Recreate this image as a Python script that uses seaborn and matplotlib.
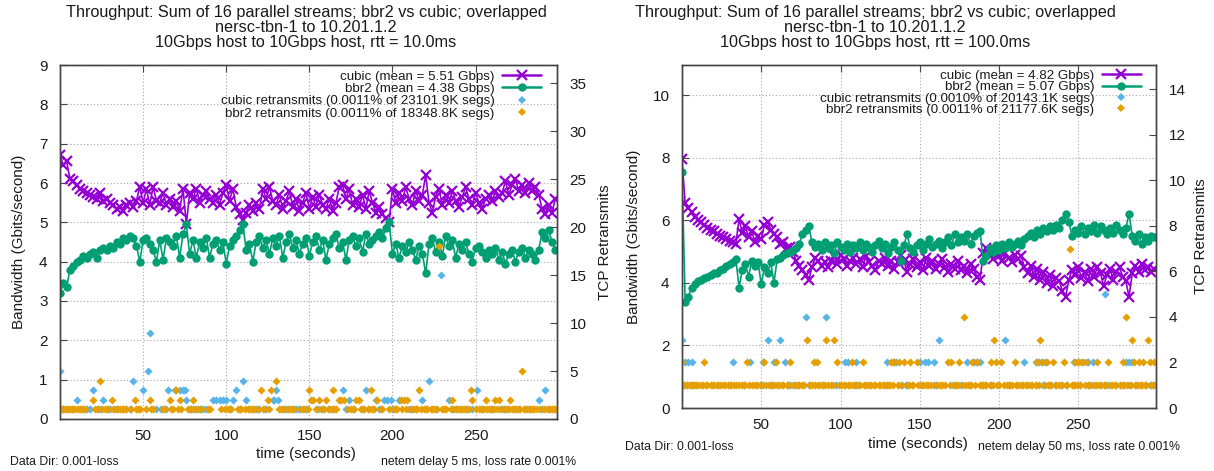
import pandas as pd
import matplotlib
matplotlib.use("Agg")
import matplotlib.pyplot as plt
from matplotlib.lines import Line2D
import seaborn as sns

# Sample times (seconds) for the bandwidth series
seconds = list(range(0, 300, 2))

# Aggregate throughput (Gbit/s), rtt = 10 ms
cubic_bw_10 = [
    6.70, 6.45, 6.55, 6.10, 6.05, 5.95, 5.85, 5.80, 5.75, 5.70, 5.65, 5.60, 5.75, 5.55, 5.60,
    5.50, 5.45, 5.35, 5.40, 5.30, 5.45, 5.50, 5.40, 5.55, 5.90, 5.50, 5.85, 5.45, 5.90, 5.55,
    5.50, 5.75, 5.45, 5.60, 5.40, 5.55, 5.30, 5.85, 4.95, 5.75, 5.60, 5.85, 5.50, 5.70, 5.80,
    5.60, 5.50, 5.70, 5.45, 5.75, 5.95, 5.55, 5.85, 5.40, 5.20, 5.05, 5.25, 5.45, 5.30, 5.50,
    5.35, 5.85, 5.60, 5.90, 5.55, 5.45, 5.70, 5.35, 5.55, 5.80, 5.40, 5.60, 5.30, 5.50, 5.75,
    5.35, 5.65, 5.40, 5.70, 5.45, 5.35, 5.60, 5.30, 5.50, 5.90, 5.95, 5.60, 5.85, 5.45, 5.60,
    5.40, 5.70, 5.35, 5.80, 5.50, 5.25, 5.40, 5.20, 5.10, 5.00, 5.85, 5.50, 5.75, 5.55, 5.90,
    5.60, 5.45, 5.80, 5.55, 5.70, 6.20, 5.50, 5.25, 5.65, 5.85, 5.45, 5.70, 5.50, 5.80, 5.55,
    5.40, 5.65, 5.90, 5.60, 5.45, 5.75, 5.50, 5.35, 5.60, 5.70, 5.55, 5.80, 5.65, 5.75, 6.05,
    5.70, 5.95, 6.10, 5.80, 5.95, 5.75, 6.00, 5.80, 5.90, 5.70, 5.35, 5.20, 5.45, 5.25, 5.60,
]
bbr2_bw_10 = [
    3.20, 3.45, 3.35, 3.80, 3.90, 4.00, 4.05, 4.15, 4.10, 4.20, 4.25, 4.10, 4.30, 4.35, 4.30,
    4.40, 4.35, 4.50, 4.45, 4.60, 4.55, 4.65, 4.60, 4.40, 4.00, 4.55, 4.60, 4.45, 4.30, 4.00,
    4.55, 4.05, 4.60, 4.50, 4.40, 4.65, 4.10, 4.70, 4.95, 4.20, 4.55, 4.10, 4.50, 4.35, 4.60,
    4.10, 4.45, 4.55, 4.30, 4.50, 3.95, 4.40, 4.55, 4.65, 4.80, 4.95, 4.30, 4.45, 4.00, 4.50,
    4.65, 4.35, 4.55, 4.20, 4.60, 4.40, 4.65, 4.10, 4.50, 4.70, 4.35, 4.55, 4.20, 4.45, 4.60,
    4.15, 4.50, 4.65, 4.30, 4.55, 4.05, 4.45, 4.60, 4.70, 4.35, 4.50, 4.05, 4.55, 4.65, 4.40,
    4.60, 4.25, 4.70, 4.45, 4.55, 4.65, 4.75, 4.60, 4.85, 5.00, 4.20, 4.45, 4.10, 4.40, 4.25,
    4.50, 4.30, 4.05, 4.40, 4.20, 3.70, 4.45, 4.60, 4.25, 4.50, 4.15, 4.65, 4.40, 4.55, 4.10,
    4.45, 4.30, 4.50, 4.20, 4.00, 4.35, 4.40, 4.25, 4.10, 4.30, 4.20, 4.35, 4.05, 4.25, 3.95,
    4.20, 4.30, 4.00, 4.25, 4.35, 4.10, 4.30, 4.20, 4.05, 4.30, 4.75, 4.60, 4.80, 4.50, 4.30,
]

# Aggregate throughput (Gbit/s), rtt = 100 ms
cubic_bw_100 = [
    7.95, 6.55, 6.40, 6.25, 6.10, 6.00, 5.95, 5.85, 5.75, 5.70, 5.65, 5.55, 5.50, 5.45, 5.40,
    5.35, 5.30, 5.25, 6.05, 5.60, 5.80, 5.45, 5.65, 5.30, 5.50, 5.40, 5.85, 5.95, 5.70, 5.55,
    5.45, 5.25, 5.30, 5.10, 5.15, 5.00, 4.70, 4.55, 4.40, 4.25, 4.10, 4.50, 4.80, 4.70, 4.55,
    4.65, 4.50, 4.70, 4.85, 4.60, 4.90, 4.75, 4.55, 4.70, 4.80, 4.60, 4.75, 4.50, 4.85, 4.65,
    4.55, 4.40, 4.70, 4.60, 4.80, 4.55, 4.70, 4.45, 4.65, 4.90, 4.70, 4.35, 4.60, 4.75, 4.50,
    4.65, 4.40, 4.80, 4.55, 4.70, 4.45, 4.60, 4.75, 4.50, 4.35, 4.60, 4.45, 4.70, 4.40, 4.55,
    4.30, 4.60, 4.45, 4.20, 4.10, 4.95, 5.10, 4.90, 4.75, 5.00, 4.85, 4.70, 4.95, 4.80, 4.65,
    4.90, 4.75, 4.85, 4.50, 4.30, 4.55, 4.20, 4.45, 4.10, 4.35, 4.00, 4.25, 3.90, 4.15, 4.05,
    3.75, 3.55, 4.10, 4.40, 4.25, 4.50, 4.15, 4.35, 4.05, 4.45, 4.20, 4.50, 4.30, 3.90, 4.25,
    4.45, 4.10, 4.35, 4.50, 4.20, 4.05, 3.55, 4.30, 4.55, 4.35, 4.60, 4.40, 4.50, 4.35, 4.45,
]
bbr2_bw_100 = [
    7.55, 3.40, 3.55, 3.85, 3.95, 4.05, 4.10, 4.15, 4.20, 4.25, 4.30, 4.30, 4.40, 4.45, 4.55,
    4.60, 4.65, 4.75, 3.85, 4.40, 4.60, 4.20, 4.70, 4.55, 4.65, 3.95, 4.50, 4.30, 4.65, 4.00,
    4.75, 4.80, 4.90, 4.95, 5.00, 5.05, 5.10, 5.25, 5.55, 5.70, 5.80, 5.30, 5.15, 5.25, 5.05,
    5.30, 5.10, 5.20, 4.95, 5.30, 5.15, 5.05, 5.25, 5.00, 5.20, 5.10, 5.30, 5.05, 5.25, 5.15,
    5.00, 5.20, 5.35, 5.10, 5.25, 4.95, 5.15, 5.30, 5.05, 4.70, 5.20, 5.55, 5.10, 5.00, 5.20,
    5.30, 5.05, 5.25, 5.40, 5.15, 5.25, 5.35, 5.10, 5.30, 5.45, 5.20, 5.55, 5.30, 5.45, 5.35,
    5.55, 5.25, 5.50, 5.60, 5.65, 4.70, 4.85, 5.10, 5.00, 5.20, 5.05, 5.25, 5.10, 5.30, 5.15,
    5.25, 5.35, 5.20, 5.40, 5.50, 5.60, 5.45, 5.70, 5.55, 5.75, 5.65, 5.80, 5.70, 5.85, 5.75,
    6.00, 6.20, 5.95, 5.50, 5.70, 5.60, 5.80, 5.55, 5.75, 5.65, 5.85, 5.60, 5.80, 5.70, 5.55,
    5.75, 5.60, 5.85, 5.70, 5.55, 5.75, 6.20, 5.50, 5.35, 5.55, 5.25, 5.45, 5.35, 5.50, 5.45,
]

# Retransmits per second as (time, count), rtt = 10 ms
cubic_rtx_10 = [
    (0, 5), (0, 1), (2, 1), (4, 1), (10, 2), (16, 1), (18, 1), (20, 3), (22, 1), (24, 1), (26, 2),
    (30, 1), (33, 1), (42, 1), (44, 4), (50, 3), (53, 5), (54, 9), (58, 1), (61, 1), (64, 1),
    (65, 3), (69, 3), (72, 3), (74, 3), (75, 3), (76, 2), (78, 1), (80, 1), (83, 1), (86, 1),
    (88, 1), (92, 2), (94, 2), (96, 2), (98, 2), (100, 2), (102, 1), (104, 2), (106, 3), (110, 4),
    (112, 2), (116, 1), (118, 1), (120, 1), (124, 1), (128, 2), (129, 2), (130, 3), (131, 2),
    (136, 1), (140, 1), (142, 1), (144, 1), (148, 1), (155, 1), (159, 1), (164, 1), (170, 3),
    (172, 1), (174, 2), (176, 1), (182, 1), (184, 3), (190, 2), (192, 1), (195, 2), (197, 2),
    (199, 2), (200, 1), (204, 2), (210, 1), (212, 1), (218, 2), (222, 4), (226, 1), (229, 15),
    (234, 2), (236, 1), (238, 1), (244, 1), (248, 1), (251, 3), (254, 1), (260, 1), (266, 1),
    (276, 1), (282, 1), (288, 2), (290, 1), (292, 3), (294, 1),
]
bbr2_rtx_10 = [
    (1, 1), (2, 1), (3, 1), (5, 1), (6, 1), (7, 1), (8, 1), (9, 1), (11, 1), (12, 1), (13, 1),
    (14, 1), (15, 1), (20, 2), (21, 1), (23, 1), (24, 4), (25, 1), (27, 1), (28, 1), (29, 1),
    (31, 2), (32, 1), (34, 1), (35, 1), (36, 1), (37, 1), (38, 1), (39, 1), (40, 1), (43, 1),
    (45, 2), (46, 1), (47, 1), (48, 1), (52, 1), (54, 2), (55, 1), (56, 1), (62, 1), (63, 1),
    (66, 2), (67, 1), (68, 1), (70, 3), (71, 1), (72, 2), (73, 1), (77, 1), (79, 1), (80, 2),
    (81, 1), (82, 1), (84, 1), (85, 1), (89, 1), (90, 1), (97, 1), (99, 1), (101, 1), (103, 1),
    (107, 1), (108, 1), (109, 1), (111, 1), (113, 1), (114, 1), (115, 1), (117, 1), (119, 1),
    (121, 3), (122, 1), (123, 1), (125, 2), (126, 1), (127, 3), (130, 4), (132, 1), (133, 1),
    (134, 1), (135, 1), (137, 1), (138, 1), (139, 1), (141, 1), (145, 1), (146, 1), (147, 1),
    (149, 1), (150, 3), (151, 2), (152, 2), (154, 1), (156, 2), (157, 1), (158, 1), (160, 2),
    (161, 1), (162, 1), (163, 1), (164, 3), (165, 1), (166, 1), (168, 2), (169, 2), (171, 2),
    (173, 1), (175, 1), (177, 1), (178, 2), (180, 2), (181, 1), (183, 1), (185, 1), (186, 1),
    (187, 3), (188, 1), (189, 1), (191, 2), (193, 1), (194, 1), (198, 1), (201, 1), (202, 1),
    (203, 1), (205, 2), (206, 1), (207, 2), (208, 1), (209, 2), (211, 1), (213, 1), (214, 1),
    (215, 1), (216, 3), (217, 1), (219, 1), (220, 1), (221, 1), (223, 1), (224, 1), (225, 1),
    (227, 1), (228, 18), (230, 1), (231, 1), (232, 1), (235, 1), (236, 2), (237, 1), (239, 1),
    (240, 1), (241, 1), (242, 1), (243, 1), (245, 1), (246, 1), (247, 3), (248, 2), (250, 1),
    (252, 1), (253, 1), (255, 1), (256, 2), (257, 1), (258, 1), (259, 1), (261, 1), (262, 2),
    (263, 1), (264, 2), (265, 1), (267, 1), (268, 1), (269, 1), (270, 1), (271, 2), (272, 1),
    (273, 1), (274, 1), (275, 1), (277, 1), (278, 5), (279, 1), (280, 1), (281, 1), (283, 1),
    (284, 1), (285, 1), (287, 1), (289, 1), (291, 1), (293, 1), (295, 1), (296, 1), (297, 1),
    (298, 1),
]

# Retransmits per second as (time, count), rtt = 100 ms
cubic_rtx_100 = [
    (0, 3), (0, 1), (1, 1), (2, 2), (3, 1), (4, 2), (5, 1), (6, 2), (7, 1), (32, 2), (43, 2),
    (51, 2), (51, 1), (54, 3), (57, 1), (58, 2), (62, 3), (65, 2), (68, 1), (72, 1), (78, 4),
    (80, 1), (89, 1), (91, 4), (97, 1), (103, 2), (105, 2), (110, 2), (110, 1), (116, 1),
    (129, 2), (129, 1), (133, 2), (135, 2), (139, 1), (141, 1), (150, 2), (153, 2), (155, 2),
    (159, 2), (159, 1), (162, 3), (171, 1), (176, 1), (180, 2), (181, 1), (184, 2), (186, 2),
    (188, 2), (190, 1), (195, 1), (204, 3), (206, 1), (216, 2), (223, 2), (223, 1), (225, 2),
    (227, 2), (228, 1), (229, 2), (233, 1), (240, 1), (247, 2), (247, 1), (250, 2), (251, 1),
    (253, 2), (256, 2), (258, 1), (259, 2), (267, 5), (268, 1), (278, 1), (280, 2), (282, 2),
    (282, 1), (284, 2), (287, 1), (295, 1), (298, 1),
]
bbr2_rtx_100 = [
    (0, 2), (1, 1), (3, 1), (5, 1), (6, 1), (8, 1), (9, 1), (10, 1), (12, 1), (13, 1), (14, 2),
    (15, 1), (16, 1), (18, 1), (19, 1), (20, 1), (22, 1), (23, 1), (24, 1), (26, 1), (27, 1),
    (29, 1), (30, 1), (31, 1), (33, 1), (34, 1), (36, 1), (38, 1), (39, 1), (40, 1), (41, 2),
    (42, 1), (44, 1), (46, 1), (47, 1), (49, 1), (50, 1), (52, 2), (53, 1), (55, 1), (56, 1),
    (58, 1), (59, 2), (60, 1), (61, 1), (63, 1), (64, 1), (66, 1), (67, 1), (68, 2), (70, 1),
    (71, 1), (73, 1), (74, 1), (76, 1), (77, 1), (79, 3), (81, 1), (82, 1), (83, 2), (84, 1),
    (85, 2), (86, 1), (87, 1), (89, 1), (90, 1), (91, 3), (92, 1), (94, 1), (95, 1), (96, 3),
    (98, 2), (99, 1), (100, 1), (102, 1), (103, 1), (105, 1), (106, 1), (107, 2), (108, 1),
    (109, 1), (111, 1), (112, 1), (114, 2), (115, 1), (116, 1), (118, 1), (119, 1), (121, 1),
    (122, 1), (124, 1), (125, 1), (127, 1), (128, 1), (130, 1), (131, 1), (132, 2), (133, 1),
    (134, 2), (136, 1), (137, 2), (138, 1), (140, 2), (142, 1), (143, 1), (144, 2), (145, 1),
    (146, 1), (148, 2), (149, 1), (151, 1), (152, 1), (154, 1), (155, 1), (157, 1), (160, 1),
    (161, 1), (163, 1), (164, 1), (166, 1), (168, 2), (169, 1), (170, 2), (172, 1), (173, 1),
    (174, 1), (175, 2), (177, 1), (178, 4), (179, 1), (181, 1), (182, 1), (183, 2), (185, 1),
    (186, 2), (188, 1), (189, 1), (191, 1), (192, 1), (194, 1), (195, 2), (196, 1), (197, 3),
    (198, 2), (199, 1), (200, 1), (201, 2), (203, 1), (205, 1), (207, 1), (208, 1), (210, 2),
    (211, 1), (212, 1), (214, 1), (215, 1), (217, 1), (218, 1), (220, 1), (221, 1), (223, 1),
    (224, 2), (225, 1), (226, 3), (227, 2), (229, 1), (230, 2), (231, 1), (232, 1), (234, 2),
    (235, 1), (236, 1), (238, 1), (239, 1), (241, 2), (242, 1), (243, 1), (245, 7), (246, 1),
    (247, 1), (248, 2), (249, 1), (250, 2), (251, 1), (252, 2), (254, 1), (255, 2), (256, 1),
    (257, 1), (260, 1), (261, 1), (262, 2), (263, 1), (264, 1), (266, 1), (267, 1), (269, 2),
    (270, 1), (271, 1), (273, 1), (274, 1), (276, 1), (277, 1), (278, 2), (279, 1), (280, 4),
    (281, 1), (283, 1), (284, 3), (285, 2), (286, 1), (287, 1), (288, 2), (289, 1), (290, 1),
    (291, 2), (292, 1), (293, 1), (294, 3), (295, 2), (296, 1), (297, 1), (298, 2), (299, 1),
]

title_common = "Throughput: Sum of 16 parallel streams; bbr2 vs cubic; overlapped\nnersc-tbn-1 to 10.201.1.2\n"
titles = [title_common + "10Gbps host to 10Gbps host, rtt = 10.0ms",
          title_common + "10Gbps host to 10Gbps host, rtt = 100.0ms"]
legend_labels = [
    ["cubic (mean = 5.51 Gbps)", "bbr2 (mean = 4.38 Gbps)",
     "cubic retransmits (0.0011% of 23101.9K segs)", "bbr2 retransmits (0.0011% of 18348.8K segs)"],
    ["cubic (mean = 4.82 Gbps)", "bbr2 (mean = 5.07 Gbps)",
     "cubic retransmits (0.0010% of 20143.1K segs)", "bbr2 retransmits (0.0011% of 21177.6K segs)"],
]
footers = ["netem delay 5 ms, loss rate 0.001%", "netem delay 50 ms, loss rate 0.001%"]
data_dir = "Data Dir: 0.001-loss"
x_ticks = [50, 100, 150, 200, 250]

PURPLE = "#9400D3"
GREEN = "#009E73"
CYAN = "#56B4E9"
ORANGE = "#E69F00"
INK = "#1a1a1a"
FRAME = "#444444"

sns.set_style("white")
plt.rcParams["font.family"] = ["Liberation Sans", "DejaVu Sans"]
plt.rcParams["text.color"] = INK
plt.rcParams["axes.labelcolor"] = INK
plt.rcParams["xtick.color"] = INK
plt.rcParams["ytick.color"] = INK

fig = plt.figure(figsize=(12.14, 4.71), dpi=100)
W, H = 1214, 471


def px_rect(x0, y0, x1, y1):
    return [x0 / W, 1 - y1 / H, (x1 - x0) / W, (y1 - y0) / H]


def draw_panel(rect, cubic_bw, bbr2_bw, cubic_rtx, bbr2_rtx, ymax, yticks, y2max, y2ticks):
    ax = fig.add_axes(rect)
    ax2 = ax.twinx()

    bw = pd.DataFrame({"time": seconds, "cubic": cubic_bw, "bbr2": bbr2_bw})
    line_kw = dict(linewidth=1.2, errorbar=None, legend=False, ax=ax)
    sns.lineplot(data=bw, x="time", y="cubic", color=PURPLE, marker="x", markersize=7,
                 markeredgewidth=1.6, markeredgecolor=PURPLE, **line_kw)
    sns.lineplot(data=bw, x="time", y="bbr2", color=GREEN, marker="o", markersize=6,
                 markeredgewidth=0, markerfacecolor=GREEN, **line_kw)

    rc = pd.DataFrame(cubic_rtx, columns=["time", "count"])
    rb = pd.DataFrame(bbr2_rtx, columns=["time", "count"])
    sns.scatterplot(data=rc, x="time", y="count", color=CYAN, marker="D", s=17,
                    linewidth=0, legend=False, ax=ax2)
    sns.scatterplot(data=rb, x="time", y="count", color=ORANGE, marker="D", s=17,
                    linewidth=0, legend=False, ax=ax2)

    ax.set_xlim(0, 299)
    ax.set_ylim(0, ymax)
    ax2.set_ylim(0, y2max)
    ax.set_xticks(x_ticks)
    ax.set_yticks(yticks)
    ax2.set_yticks(y2ticks)
    ax.grid(True, linestyle=(0, (1, 2)), color="#a8a8a8", linewidth=0.8)
    ax.set_axisbelow(True)

    for a in (ax, ax2):
        for sp in a.spines.values():
            sp.set_color(FRAME)
            sp.set_linewidth(1.0)
    ax.tick_params(axis="x", direction="in", length=5, top=True, labelsize=11, pad=7,
                   color=FRAME)
    ax.tick_params(axis="y", direction="in", length=5, labelsize=11, pad=9, color=FRAME)
    ax2.tick_params(axis="y", direction="in", length=5, labelsize=11, pad=9, color=FRAME)

    ax.set_xlabel("time (seconds)", fontsize=11)
    ax.set_ylabel("Bandwidth (Gbits/second)", fontsize=11)
    ax2.set_ylabel("TCP Retransmits", fontsize=11)
    return ax, ax2


panels = [
    dict(box=(60, 65, 557, 419), data=dict(cubic_bw=cubic_bw_10, bbr2_bw=bbr2_bw_10,
         cubic_rtx=cubic_rtx_10, bbr2_rtx=bbr2_rtx_10, ymax=9, yticks=list(range(0, 10)),
         y2max=36.9, y2ticks=list(range(0, 36, 5))),
         labels=legend_labels[0], title=titles[0], title_x=306, footer=footers[0],
         footer_x=576, footer_y=462, dir_x=10, ylab_x=26, y2lab_x=598, xlab=(306, 455),
         legend_spacing=0.0, legend_top=0.985),
    dict(box=(682, 65, 1156, 408), data=dict(cubic_bw=cubic_bw_100, bbr2_bw=bbr2_bw_100,
         cubic_rtx=cubic_rtx_100, bbr2_rtx=bbr2_rtx_100, ymax=10.96,
         yticks=list(range(0, 11, 2)), y2max=15.07, y2ticks=list(range(0, 15, 2))),
         labels=legend_labels[1], title=titles[1], title_x=875, footer=footers[1],
         footer_x=1180, footer_y=447, dir_x=625, ylab_x=641, y2lab_x=1194, xlab=(918, 445),
         legend_spacing=-0.08, legend_top=0.986),
]

for p in panels:
    x0, y0, x1, y1 = p["box"]
    w, h = x1 - x0, y1 - y0
    ax, ax2 = draw_panel(px_rect(*p["box"]), **p["data"])
    ax.yaxis.set_label_coords((p["ylab_x"] - x0) / w, 0.5)
    ax2.yaxis.set_label_coords((p["y2lab_x"] - x0) / w, 0.5)
    ax.xaxis.set_label_coords((p["xlab"][0] - x0) / w, -(p["xlab"][1] - 8 - y1) / h)

    handles = [
        Line2D([], [], color=PURPLE, marker="x", markersize=7, markeredgewidth=1.6, linewidth=1.8),
        Line2D([], [], color=GREEN, marker="o", markersize=6, markeredgewidth=0, linewidth=1.8),
        Line2D([], [], color=CYAN, marker="D", markersize=4, markeredgewidth=0, linestyle="none"),
        Line2D([], [], color=ORANGE, marker="D", markersize=4, markeredgewidth=0, linestyle="none"),
    ]
    ax2.legend(handles, p["labels"], loc="upper right", bbox_to_anchor=(0.968, p["legend_top"]),
               markerfirst=False, frameon=False, fontsize=9.6, handlelength=2.9,
               handletextpad=0.6, labelspacing=p["legend_spacing"], borderpad=0,
               borderaxespad=0)

    fig.text(p["title_x"] / W, 1 - 5 / H, p["title"], ha="center", va="top",
             fontsize=11.7, linespacing=0.98)
    fig.text(p["footer_x"] / W, 1 - p["footer_y"] / H, p["footer"], ha="right",
             va="center", fontsize=8.8)
    fig.text(p["dir_x"] / W, 1 - p["footer_y"] / H, data_dir, ha="left",
             va="center", fontsize=8.8)

fig.savefig("out.png", dpi=100)
